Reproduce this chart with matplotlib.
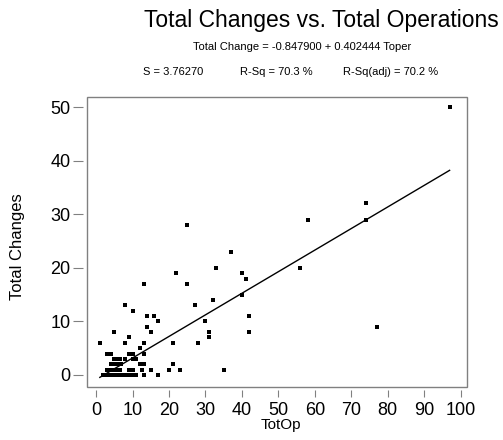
# Import Libraries
import numpy as np
import matplotlib
matplotlib.use('Agg')
import matplotlib.pyplot as plt
from matplotlib.patches import Rectangle

plt.rcParams['font.family'] = ['Liberation Sans', 'DejaVu Sans']

# Data: total operations vs total changes
totop = [2, 2.7, 3.5, 4.2, 5, 5.7, 6.5, 7.2, 8, 8.7, 9.5, 10.2, 11, 13, 17,
         3, 3.7, 4.3, 5, 5.7, 6.6, 9, 10, 12.5, 15, 20, 23, 35,
         4, 4.7, 5.3, 6, 6.8, 12, 13, 21,
         5, 5.7, 6.5, 8, 10, 11,
         3, 4, 9, 10, 13,
         12,
         1, 8, 13, 21, 28,
         9, 31,
         5, 15, 31, 42,
         14, 77,
         17, 30,
         14, 16, 42,
         10,
         8, 27,
         32,
         40,
         13, 25,
         41,
         22, 40,
         33, 56,
         37,
         25,
         58, 74,
         74,
         97]
totchg = [0]*15 + [1]*13 + [2]*8 + [3]*6 + [4]*5 + [5]*1 + [6]*5 + [7]*2 \
    + [8]*4 + [9]*2 + [10]*2 + [11]*3 + [12]*1 + [13]*2 + [14]*1 + [15]*1 \
    + [17]*2 + [18]*1 + [19]*2 + [20]*2 + [23]*1 + [28]*1 + [29]*2 + [32]*1 + [50]*1

# Regression fit
b0 = -0.847900
b1 = 0.402444
s_val = 3.76270
rsq = 70.3
rsq_adj = 70.2

x = np.array(totop, dtype=float)
y = np.array(totchg, dtype=float)
xf = np.array([x.min(), x.max()])
yf = b0 + b1 * xf

fig = plt.figure(figsize=(5.03, 4.40), dpi=100)
ax = fig.add_axes([0.1724, 0.1205, 0.7555, 0.659])

ax.plot(xf, yf, color='black', lw=1.0)
ax.plot(x, y, 's', color='black', markersize=2.4, markeredgewidth=0)

ax.set_xlim(-2.6, 101.7)
ax.set_ylim(-2.24, 51.87)
ax.set_xticks(np.arange(0, 101, 10))
ax.set_yticks(np.arange(0, 51, 10))

# Minitab style: frame box, ticks detached from the frame
for sp in ax.spines.values():
    sp.set_visible(False)
ax.spines['bottom'].set_position(('outward', 2.5))
ax.spines['left'].set_position(('outward', 2.5))
ax.add_patch(Rectangle((0, 0), 1, 1, transform=ax.transAxes, fill=False,
                       edgecolor='#808080', lw=1.0, clip_on=False))
ax.tick_params(axis='x', length=5, width=0.8, color='#808080', pad=3, labelsize=13)
ax.tick_params(axis='y', length=7, width=0.8, color='#808080', pad=2, labelsize=13)

fig.text(281/503, 1-425/440, 'TotOp', ha='center', va='center', fontsize=11)
fig.text(18/503, 1-247/440, 'Total Changes', ha='center', va='center',
         rotation=90, fontsize=12)

# Title and fit summary
fig.text(321/503, 1-20/440, 'Total Changes vs. Total Operations',
         ha='center', va='center', fontsize=16.5)
fig.text(302/503, 1-47/440, 'Total Change = %.6f + %.6f Toper' % (b0, b1),
         ha='center', va='center', fontsize=8)
fig.text(143/503, 1-72/440, 'S = %.5f' % s_val, ha='left', va='center', fontsize=8)
fig.text(240/503, 1-72/440, 'R-Sq = %.1f %%' % rsq, ha='left', va='center', fontsize=8)
fig.text(343/503, 1-72/440, 'R-Sq(adj) = %.1f %%' % rsq_adj, ha='left', va='center', fontsize=8)

plt.savefig('out.png', dpi=100)
